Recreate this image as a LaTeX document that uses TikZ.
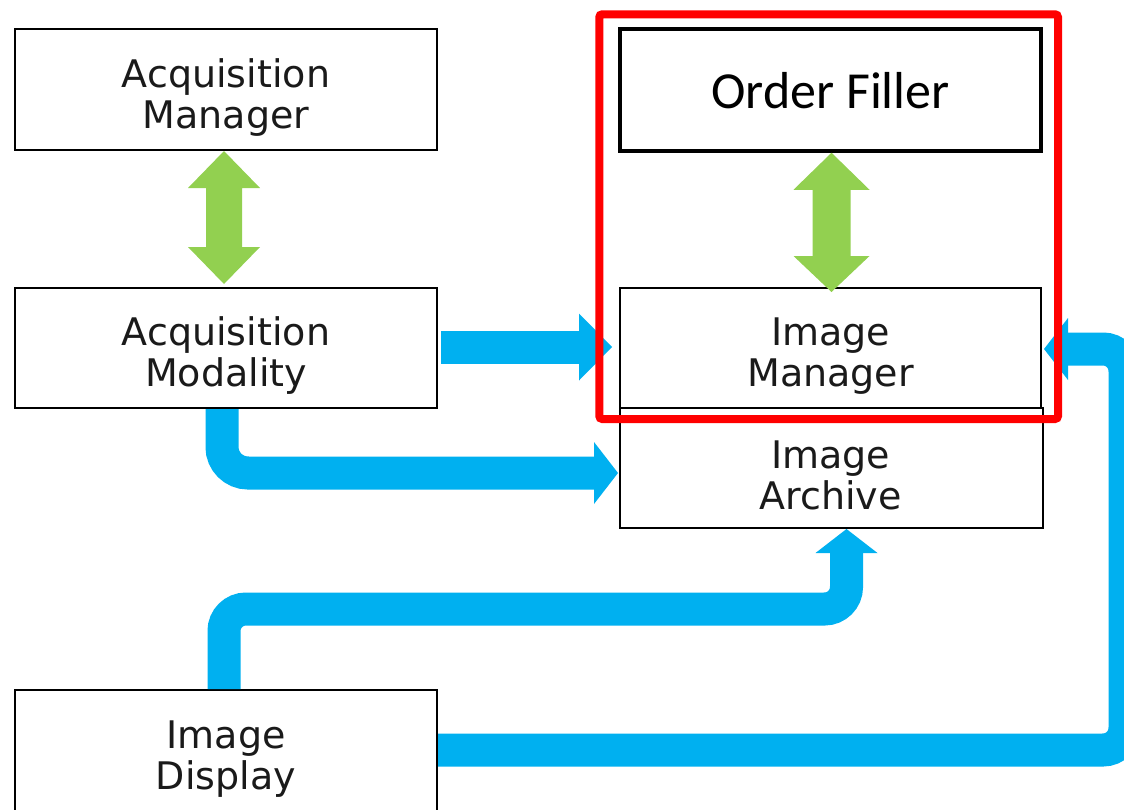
\documentclass[tikz,border=0pt]{standalone}
\usepackage{fontspec}
\setmainfont{DejaVu Sans}
\newfontfamily\calibri{Carlito}
\usetikzlibrary{arrows.meta,calc}
\definecolor{bluearr}{HTML}{00B0F0}
\definecolor{greenarr}{HTML}{92D050}
\definecolor{txt}{HTML}{1A1A1A}
\begin{document}
\begin{tikzpicture}[x=1pt,y=-1pt,
  box/.style={draw=black,line width=2pt,fill=white,inner sep=0pt},
  boxtext/.style={align=center,inner sep=0pt,text=txt,font=\fontsize{38}{41}\selectfont},
  bluearrow/.style={draw=bluearr,line width=33pt,rounded corners=22pt,
    -{Triangle[length=24pt,width=62pt,line width=0pt]}},
  greenarrow/.style={fill=greenarr}]
\useasboundingbox (0,0) rectangle (1124,809);
\clip (0,0) rectangle (1124,809);
\fill[white] (0,0) rectangle (1124,809);
% boxes
\node[box,minimum width=422pt,minimum height=121pt] (am) at (226,89.5) {};
\node[boxtext] (amt) at ($(am.center)+(0,8)$) {Acquisition\\Manager};
\node[box,minimum width=422pt,minimum height=120pt] (amod) at (226,348) {};
\node[boxtext] (amodt) at ($(amod.center)+(0,8)$) {Acquisition\\Modality};
\node[box,minimum width=421pt,minimum height=122pt,line width=3.5pt] (of) at (830.5,90) {};
\node[boxtext,text=black,font=\calibri\fontsize{52}{60}\selectfont] (oft) at ($(of.center)+(0,1)$) {Order Filler};
\node[box,minimum width=423pt,minimum height=120pt] (ia) at (831.5,468) {};
\node[boxtext] (iat) at ($(ia.center)+(-1,7)$) {Image\\Archive};
\node[box,minimum width=421pt,minimum height=120pt] (im) at (830.5,348) {};
\node[boxtext] (imt) at ($(im.center)+(0,8)$) {Image\\Manager};
\node[box,minimum width=422pt,minimum height=124pt] (id) at (226,752) {};
\node[boxtext] (idt) at ($(id.center)+(0,7)$) {Image\\Display};
% green double arrows
\coordinate (g1t) at ($(am.south)+(-2,0)$);
\coordinate (g1b) at ($(amod.north)+(-2,-3)$);
\fill[greenarrow] (g1t) -- ++(36,37) -- ++(-18,0) -- ($(g1b)+(18,-37)$) -- ++(18,0) -- (g1b)
  -- ++(-36,-37) -- ++(18,0) -- ($(g1t)+(-18,37)$) -- ++(-18,0) -- cycle;
\coordinate (g2t) at ($(of.south)+(1,0)$);
\coordinate (g2b) at ($(im.north)+(1,5)$);
\fill[greenarrow] (g2t) -- ++(38,37) -- ++(-19,0) -- ($(g2b)+(19,-36)$) -- ++(19,0) -- (g2b)
  -- ++(-38,-36) -- ++(19,0) -- ($(g2t)+(-19,37)$) -- ++(-19,0) -- cycle;
% blue arrows
\draw[bluearrow,-{Triangle[length=33pt,width=67pt,line width=0pt]}] ($(amod.east)+(3,-1)$) -- ($(im.west)+(-7,-1)$);
\draw[bluearrow,rounded corners=26pt] ($(amod.south)+(-4,0)$) |- ($(ia.west)+(-1,5)$);
\draw[bluearrow] ($(id.north)+(-2,0)$) |- ($(ia.south)+(15,80)$) -- ($(ia.south)+(15,0)$);
\draw[bluearrow] ($(id.east)+(0,-2)$) -| ($(im.east)+(83,1)$) -- ($(im.east)+(2,1)$);
% red highlight
\draw[red,line width=8pt,rounded corners=3pt] ($(of.north west)+(-19,-13)$) rectangle ($(im.south east)+(16,10)$);
\end{tikzpicture}
\end{document}
